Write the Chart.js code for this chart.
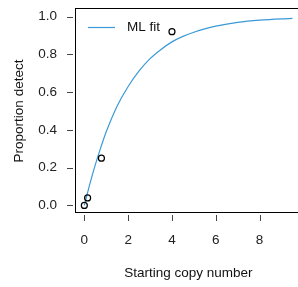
<!DOCTYPE html>
<html>
<head>
<meta charset="utf-8">
<script src="https://cdn.jsdelivr.net/npm/chart.js@4/dist/chart.umd.min.js"></script>
<style>
  html, body { margin: 0; padding: 0; background: #fff; overflow: hidden; }
  #wrap { width: 298px; height: 287px; overflow: hidden; }
</style>
</head>
<body>
<div id="wrap"><canvas id="grafico" width="306" height="287"></canvas></div>
<script>
// fitted curve
const fitX = [0, 0.25, 0.5, 0.75, 1, 1.5, 2, 2.5, 3, 3.5, 4, 4.5, 5, 5.5, 6, 7, 8, 9, 9.5];
const fitY = [0, 0.113, 0.215, 0.306, 0.39, 0.527, 0.63, 0.712, 0.777, 0.826, 0.866, 0.895, 0.917, 0.935, 0.949, 0.969, 0.981, 0.988, 0.99];

// observed proportions
const obsX = [0, 0.15, 0.78, 4.0];
const obsY = [0, 0.04, 0.25, 0.92];

const xTicks = [0, 2, 4, 6, 8];
const yTicks = [0, 0.2, 0.4, 0.6, 0.8, 1.0];

const legendText = "ML fit";
const xTitle = "Starting copy number";
const yTitle = "Proportion detect";

const fuente = "'Liberation Sans', Arial, sans-serif";
const azul = "#3a9ad7";

const ctx = document.getElementById("grafico").getContext("2d");

// box, outward tick marks and the legend, drawn like base R
const marco = {
    id: "marco",
    afterDraw(chart) {
        const c = chart.ctx;
        const a = chart.chartArea;
        const sx = chart.scales.x, sy = chart.scales.y;
        c.save();
        c.strokeStyle = "#000";
        c.lineWidth = 1;
        c.strokeRect(Math.round(a.left) - 0.5, Math.round(a.top) - 0.5,
            Math.round(a.right - a.left), Math.round(a.bottom - a.top));

        c.strokeStyle = "#444";
        c.beginPath();
        yTicks.forEach(v => {
            const py = Math.round(sy.getPixelForValue(v)) + 0.5;
            c.moveTo(a.left - 9, py);
            c.lineTo(a.left - 3, py);
        });
        xTicks.forEach(v => {
            const px = Math.round(sx.getPixelForValue(v)) + 0.5;
            c.moveTo(px, a.bottom + 2);
            c.lineTo(px, a.bottom + 8);
        });
        c.stroke();

        // legend
        const ly = a.top + 18.5;
        c.strokeStyle = azul;
        c.lineWidth = 1.2;
        c.beginPath();
        c.moveTo(a.left + 12, ly);
        c.lineTo(a.left + 39, ly);
        c.stroke();
        c.fillStyle = "#111";
        c.font = "13.5px " + fuente;
        c.textBaseline = "middle";
        c.fillText(legendText, a.left + 51, ly);
        c.restore();
    }
};

const chart = new Chart(ctx, {
    type: "scatter",
    data: {
        datasets: [
            {
                label: legendText,
                data: fitX.map((x, i) => ({ x, y: fitY[i] })),
                showLine: true,
                borderColor: azul,
                borderWidth: 1.2,
                pointRadius: 0,
                cubicInterpolationMode: "monotone",
                order: 2
            },
            {
                label: "observed",
                data: obsX.map((x, i) => ({ x, y: obsY[i] })),
                showLine: false,
                pointRadius: 3,
                pointBorderWidth: 1.2,
                pointBorderColor: "#000",
                pointBackgroundColor: "rgba(255,255,255,0)",
                order: 1
            }
        ]
    },
    options: {
        responsive: false,
        animation: false,
        devicePixelRatio: 1,
        layout: { padding: { top: 9, left: 0, right: 4, bottom: 0 } },
        plugins: {
            legend: { display: false },
            tooltip: { enabled: false }
        },
        scales: {
            x: {
                type: "linear",
                min: -0.38,
                max: 9.88,
                afterBuildTicks: s => { s.ticks = xTicks.map(v => ({ value: v })); },
                afterFit: s => { s.height = 74; },
                grid: { display: false, drawTicks: true, tickLength: 19 },
                border: { display: false },
                ticks: {
                    padding: 0,
                    color: "#222",
                    font: { family: fuente, size: 13.5 },
                    callback: v => String(v)
                },
                title: {
                    display: true,
                    text: xTitle,
                    color: "#111",
                    font: { family: fuente, size: 13.5 },
                    padding: { top: 0, bottom: 6 }
                }
            },
            y: {
                type: "linear",
                min: -0.04,
                max: 1.04,
                afterBuildTicks: s => { s.ticks = yTicks.map(v => ({ value: v })); },
                afterFit: s => { s.width = 76; },
                grid: { display: false, drawTicks: true, tickLength: 19 },
                border: { display: false },
                ticks: {
                    padding: 0,
                    color: "#222",
                    font: { family: fuente, size: 13.5 },
                    callback: v => Number(v).toFixed(1)
                },
                title: {
                    display: true,
                    text: yTitle,
                    color: "#111",
                    font: { family: fuente, size: 13.5 },
                    padding: { top: 11, bottom: 0 }
                }
            }
        }
    },
    plugins: [marco]
});
</script>
</body>
</html>
